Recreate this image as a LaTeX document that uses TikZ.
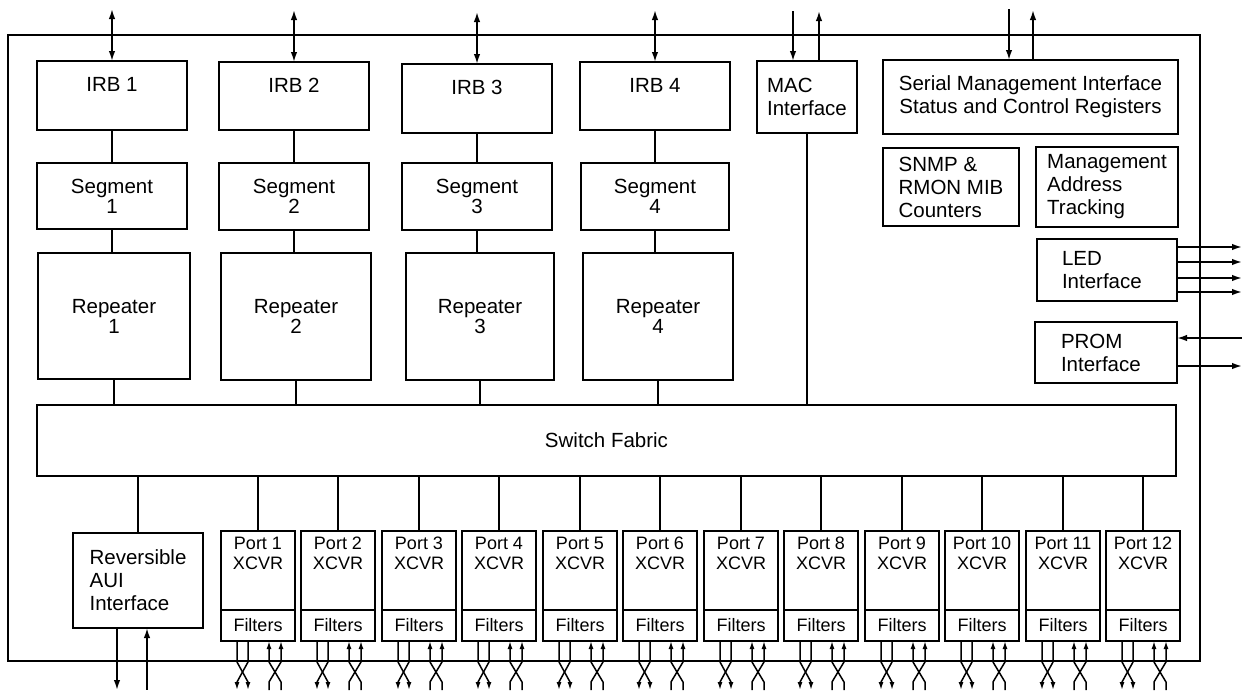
\documentclass[tikz,border=0pt]{standalone}
\usepackage{fontspec}
\setmainfont{Liberation Sans}
\usetikzlibrary{arrows.meta,positioning,calc}
\newcommand{\blkfont}{\fontsize{20.5}{23}\selectfont}
\newcommand{\portfont}{\fontsize{18}{20}\selectfont}

\begin{document}
\begin{tikzpicture}[
    x=1pt, y=-1pt,
    every node/.style={font=\blkfont},
    >={Latex[length=10pt,width=6.5pt]},
    blk/.style={draw,line width=2.4pt,inner sep=0pt,outer sep=0pt,anchor=north west,align=center},
    lblk/.style={blk,align=left},
    iblk/.style={lblk,text width=90pt,inner xsep=25pt},
    xcvr/.style={blk,minimum width=74,minimum height=79},
    filt/.style={blk,minimum width=74,minimum height=31,font=\portfont},
    wire/.style={line width=1.7pt},
    io/.style={line width=1.5pt,-{Latex[length=8pt,width=5pt]}}
  ]
  \useasboundingbox (0,0) rectangle (1244,691);
  \node[blk,minimum width=1192,minimum height=626] (chip) at (8,35) {};

  % interface / segment / repeater columns
  \node[blk,minimum width=150,minimum height=69,text depth=22pt] (irb1) at (37,61) {IRB 1};
  \node[blk,minimum width=150,minimum height=68,text depth=22pt] (irb2) at (219,62) {IRB 2};
  \node[blk,minimum width=150,minimum height=69,text depth=22pt] (irb3) at (402,64) {IRB 3};
  \node[blk,minimum width=150,minimum height=68,text depth=22pt] (irb4) at (580,62) {IRB 4};

  \node[blk,minimum width=150,minimum height=66] (seg1) at (37,163) {Segment\\[-3pt]1};
  \node[blk,minimum width=150,minimum height=67] (seg2) at (219,163) {Segment\\[-3pt]2};
  \node[blk,minimum width=150,minimum height=67] (seg3) at (402,163) {Segment\\[-3pt]3};
  \node[blk,minimum width=148,minimum height=67] (seg4) at (581,163) {Segment\\[-3pt]4};

  \node[blk,minimum width=152,minimum height=126] (rep1) at (38,253) {Repeater\\[-3pt]1};
  \node[blk,minimum width=150,minimum height=127] (rep2) at (221,253) {Repeater\\[-3pt]2};
  \node[blk,minimum width=148,minimum height=127] (rep3) at (406,253) {Repeater\\[-3pt]3};
  \node[blk,minimum width=150,minimum height=127] (rep4) at (583,253) {Repeater\\[-3pt]4};

  \node[blk,minimum width=1139,minimum height=71] (sw) at (37,405) {Switch Fabric};

  % management side
  \node[lblk,minimum width=100,minimum height=72] (mac) at (757,61) {MAC\\Interface};
  \node[blk,minimum width=295,minimum height=74] (smi) at (883,60)
    {Serial Management Interface\\Status and Control Registers};
  \node[lblk,minimum width=136,minimum height=78] (snmp) at (883,148)
    {SNMP \&\\RMON MIB\\Counters};
  \node[lblk,minimum width=142,minimum height=80] (mat) at (1036,147)
    {Management\\Address\\Tracking};
  \node[iblk,minimum width=140,minimum height=62] (led) at (1037,239) {LED\\Interface};
  \node[iblk,minimum width=142,minimum height=61] (prom) at (1035,322) {PROM\\Interface};
  \node[lblk,minimum width=130,minimum height=95] (aui) at (73,533)
    {Reversible\\AUI\\Interface};

  % column links
  \foreach \c in {1,2,3,4}{
    \draw[wire,<->] (irb\c.north) -- ++(0,-52);
    \draw[wire] (irb\c.south) -- (irb\c.south |- seg\c.north);
    \draw[wire] (seg\c.south) -- (seg\c.south |- rep\c.north);
    \draw[wire] (rep\c.south) -- (rep\c.south |- sw.north);
  }
  \draw[wire] (mac.south) -- (mac.south |- sw.north);
  \draw[wire] (aui.north) -- (aui.north |- sw.south);

  % external pins
  \draw[wire,<-] ([xshift=-14pt]mac.north) -- ++(0,-50);
  \draw[wire,->] ([xshift=12pt]mac.north) -- ++(0,-50);
  \draw[wire,<-] ([xshift=-21.5pt]smi.north) -- ++(0,-51);
  \draw[wire,->] ([xshift=2.5pt]smi.north) -- ++(0,-50);
  \draw[wire,->] ([yshift=23pt]led.east) -- ++(65,0);
  \draw[wire,->] ([yshift=8pt]led.east) -- ++(65,0);
  \draw[wire,->] ([yshift=-8pt]led.east) -- ++(65,0);
  \draw[wire,->] ([yshift=-22pt]led.east) -- ++(65,0);
  \draw[wire,<-] ([yshift=14.5pt]prom.east) -- ++(65,0);
  \draw[wire,->] ([yshift=-13.5pt]prom.east) -- ++(65,0);
  \draw[wire,->] ([xshift=-21pt]aui.south) -- ++(0,62);
  \draw[wire,<-] ([xshift=9pt]aui.south) -- ++(0,62);

  % port transceivers
  \foreach \i in {1,...,12}{
    \pgfmathtruncatemacro\px{221+80.5*(\i-1)}
    \node[xcvr,label={[font=\portfont,align=center,anchor=north,inner sep=0pt,yshift=-6pt]north:{Port \i\\XCVR}}]
      (x\i) at (\px,531) {};
    \node[filt] (f\i) at (x\i.south west) {Filters};
    \draw[wire] (sw.south -| x\i.north) -- (x\i.north);
    \draw[io] ([xshift=16pt]f\i.south west) -- ++(0,21) -- ++(11,20) -- ++(0,8);
    \draw[io] ([xshift=27pt]f\i.south west) -- ++(0,21) -- ++(-11,20) -- ++(0,8);
    \draw[io] ([xshift=48pt,yshift=-49pt]f\i.south west) -- ++(0,-8) -- ++(12,-20) -- ++(0,-21);
    \draw[io] ([xshift=60pt,yshift=-49pt]f\i.south west) -- ++(0,-8) -- ++(-12,-20) -- ++(0,-21);
  }
\end{tikzpicture}
\end{document}
